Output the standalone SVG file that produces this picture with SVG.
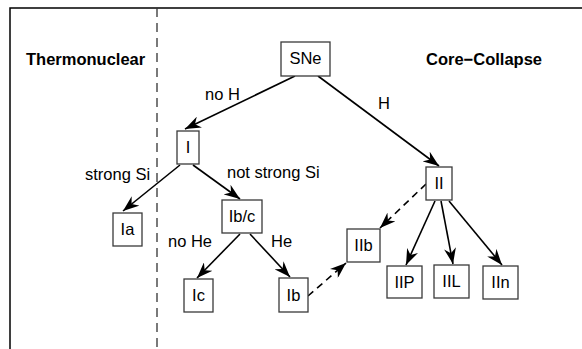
<svg xmlns="http://www.w3.org/2000/svg" width="582" height="349" viewBox="0 0 582 349">
  <defs>
    <marker id="ah" viewBox="0 0 16 12" refX="16" refY="6" markerWidth="16" markerHeight="12" markerUnits="userSpaceOnUse" orient="auto">
      <path d="M0,0 L16,6 L0,12 L5,6 Z" fill="#000"/>
    </marker>
  </defs>
  <style>
    .box { fill: #fff; stroke: #3a3a3a; stroke-width: 1.3; }
    .lbl { font-family: "Liberation Sans", Arial, sans-serif; font-size: 16.5px; fill: #000; }
    .ttl { font-family: "Liberation Sans", Arial, sans-serif; font-size: 16.5px; font-weight: bold; fill: #000; }
    .mid { text-anchor: middle; }
    .edge { stroke: #000; stroke-width: 1.6; fill: none; marker-end: url(#ah); }
    .dash { stroke-dasharray: 7 5; }
  </style>
  <rect width="582" height="349" fill="#fff"/>
  <path d="M10,349 L10,8 L582,8" fill="none" stroke="#000" stroke-width="1.5"/>
  <line x1="157" y1="8" x2="157" y2="349" stroke="#333" stroke-width="1.3" stroke-dasharray="9 6"/>
  <text class="ttl" x="26" y="65">Thermonuclear</text>
  <text class="ttl" x="426" y="65">Core−Collapse</text>

  <g id="connectors">
    <line class="edge" x1="295" y1="76" x2="185" y2="129"/>
    <line class="edge" x1="318" y1="76" x2="439" y2="166"/>
    <line class="edge" x1="180" y1="165" x2="123" y2="211"/>
    <line class="edge" x1="193" y1="165" x2="240" y2="199"/>
    <line class="edge" x1="240" y1="234" x2="197" y2="278"/>
    <line class="edge" x1="250" y1="234" x2="290" y2="277"/>
    <line class="edge" x1="435" y1="201" x2="406" y2="265"/>
    <line class="edge" x1="441" y1="201" x2="453" y2="264"/>
    <line class="edge" x1="449" y1="201" x2="502" y2="265"/>
    <line class="edge dash" x1="426" y1="184" x2="380" y2="228"/>
    <line class="edge dash" x1="308" y1="296" x2="346" y2="263"/>
    <text class="lbl" x="205" y="100">no H</text>
    <text class="lbl" x="378" y="109">H</text>
    <text class="lbl" x="85" y="180">strong Si</text>
    <text class="lbl" x="227" y="178">not strong Si</text>
    <text class="lbl" x="168" y="247">no He</text>
    <text class="lbl" x="271" y="247">He</text>
  </g>

  <g id="SNe"><rect class="box" x="281" y="42" width="49" height="34"/><text class="lbl mid" x="305.5" y="64">SNe</text></g>
  <g id="I"><rect class="box" x="177" y="131" width="22" height="33"/><text class="lbl mid" x="188" y="153">I</text></g>
  <g id="Ia"><rect class="box" x="113" y="213" width="29" height="33"/><text class="lbl mid" x="127.5" y="235">Ia</text></g>
  <g id="Ibc"><rect class="box" x="222" y="200" width="40" height="33"/><text class="lbl mid" x="242" y="222">Ib/c</text></g>
  <g id="Ic"><rect class="box" x="184" y="279" width="29" height="33"/><text class="lbl mid" x="198.5" y="301">Ic</text></g>
  <g id="Ib"><rect class="box" x="279" y="278" width="29" height="34"/><text class="lbl mid" x="293.5" y="301">Ib</text></g>
  <g id="II"><rect class="box" x="426" y="167" width="26" height="33"/><text class="lbl mid" x="439" y="189">II</text></g>
  <g id="IIb"><rect class="box" x="347" y="229" width="33" height="33"/><text class="lbl mid" x="363.5" y="251">IIb</text></g>
  <g id="IIP"><rect class="box" x="387" y="266" width="35" height="32"/><text class="lbl mid" x="404.5" y="288">IIP</text></g>
  <g id="IIL"><rect class="box" x="434" y="265" width="35" height="33"/><text class="lbl mid" x="451.5" y="287">IIL</text></g>
  <g id="IIn"><rect class="box" x="483" y="266" width="35" height="33"/><text class="lbl mid" x="500.5" y="288">IIn</text></g>
</svg>
